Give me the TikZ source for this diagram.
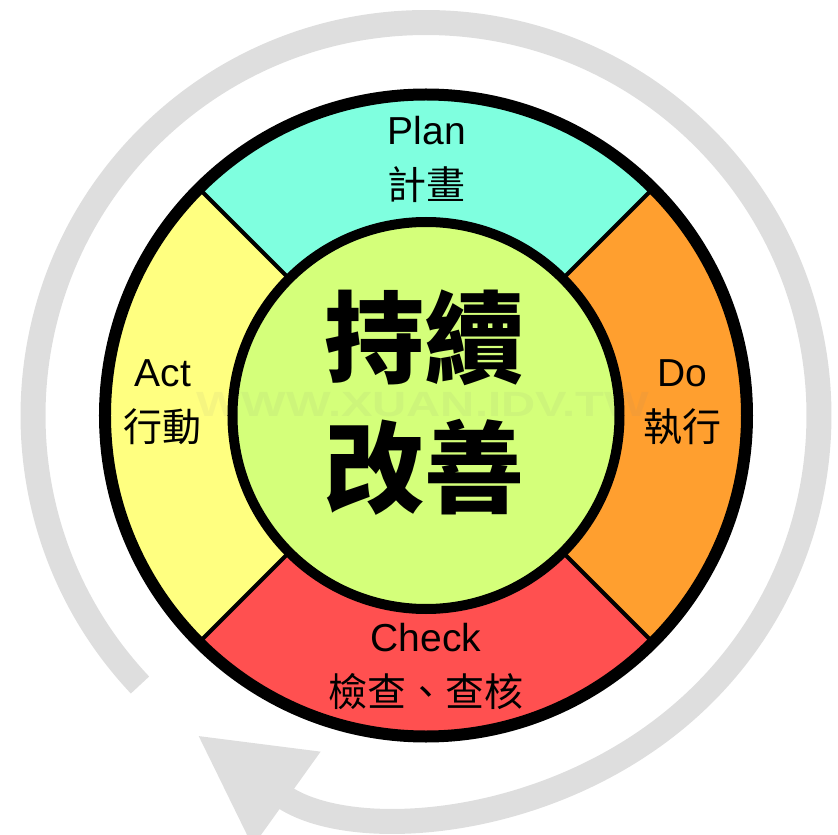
\documentclass[tikz,border=0pt]{standalone}
\usepackage{fontspec}
\setmainfont{Liberation Sans}
\newfontfamily\cjk{Noto Sans CJK TC}
\usetikzlibrary{arrows.meta}
\definecolor{plancol}{RGB}{127,255,223}
\definecolor{docol}{RGB}{255,159,47}
\definecolor{checkcol}{RGB}{255,80,80}
\definecolor{actcol}{RGB}{255,255,128}
\definecolor{corecol}{RGB}{212,255,122}
\definecolor{ringcol}{RGB}{222,222,222}

\begin{document}
\begin{tikzpicture}[x=1pt,y=1pt,
    phase/.style={align=center,inner sep=0pt,font=\fontsize{39}{55}\selectfont}]
            \useasboundingbox (-426,-419.5) rectangle (412,415.5);
            \def\rin{193.5}
            \def\rout{321}
            % grey cycle arrow
            \draw [line width=25pt,ringcol,-{Triangle[length=110pt,width=109pt]}]
                (223.3:393) arc [start angle=223.3,end angle=-125.6,radius=393];
            % the four phases
            \foreach \a/\c in {45/plancol,135/actcol,225/checkcol,-45/docol}
                \fill [\c] (\a:\rin) -- (\a:\rout) arc [start angle=\a,end angle=\a+90,radius=\rout]
                    -- ({\a+90}:\rin) arc [start angle=\a+90,end angle=\a,radius=\rin] -- cycle;
            \fill [corecol] (0,0) circle (\rin);
            \node [anchor=base,font=\fontsize{35}{35}\selectfont\bfseries,text=gray,opacity=0.08,
                xscale=1.35,transform shape] (stamp) at (-3,-1.5) {WWW.XUAN.IDV.TW};
            \foreach \a in {45,135,225,315}
                \draw [line width=4pt] (\a:\rin) -- (\a:\rout);
            \draw [line width=12pt] (0,0) circle (\rout);
            \draw [line width=10pt] (0,0) circle (\rin);
            % labels
            \node [phase] (plan) at (1,256.5) {Plan\\{\cjk 計畫}};
            \node [phase] (do) at (256,13.5) {Do\\{\cjk 執行}};
            \node [phase] (check) at (0,-250.5) {Check\\{\cjk 檢查、查核}};
            \node [phase] (act) at (-263,13) {Act\\{\cjk 行動}};
            \node [align=center,inner sep=0pt,font=\fontsize{100}{130}\selectfont\cjk\bfseries] (goal) at (-1,13) {持續\\改善};
        \end{tikzpicture}
\end{document}
